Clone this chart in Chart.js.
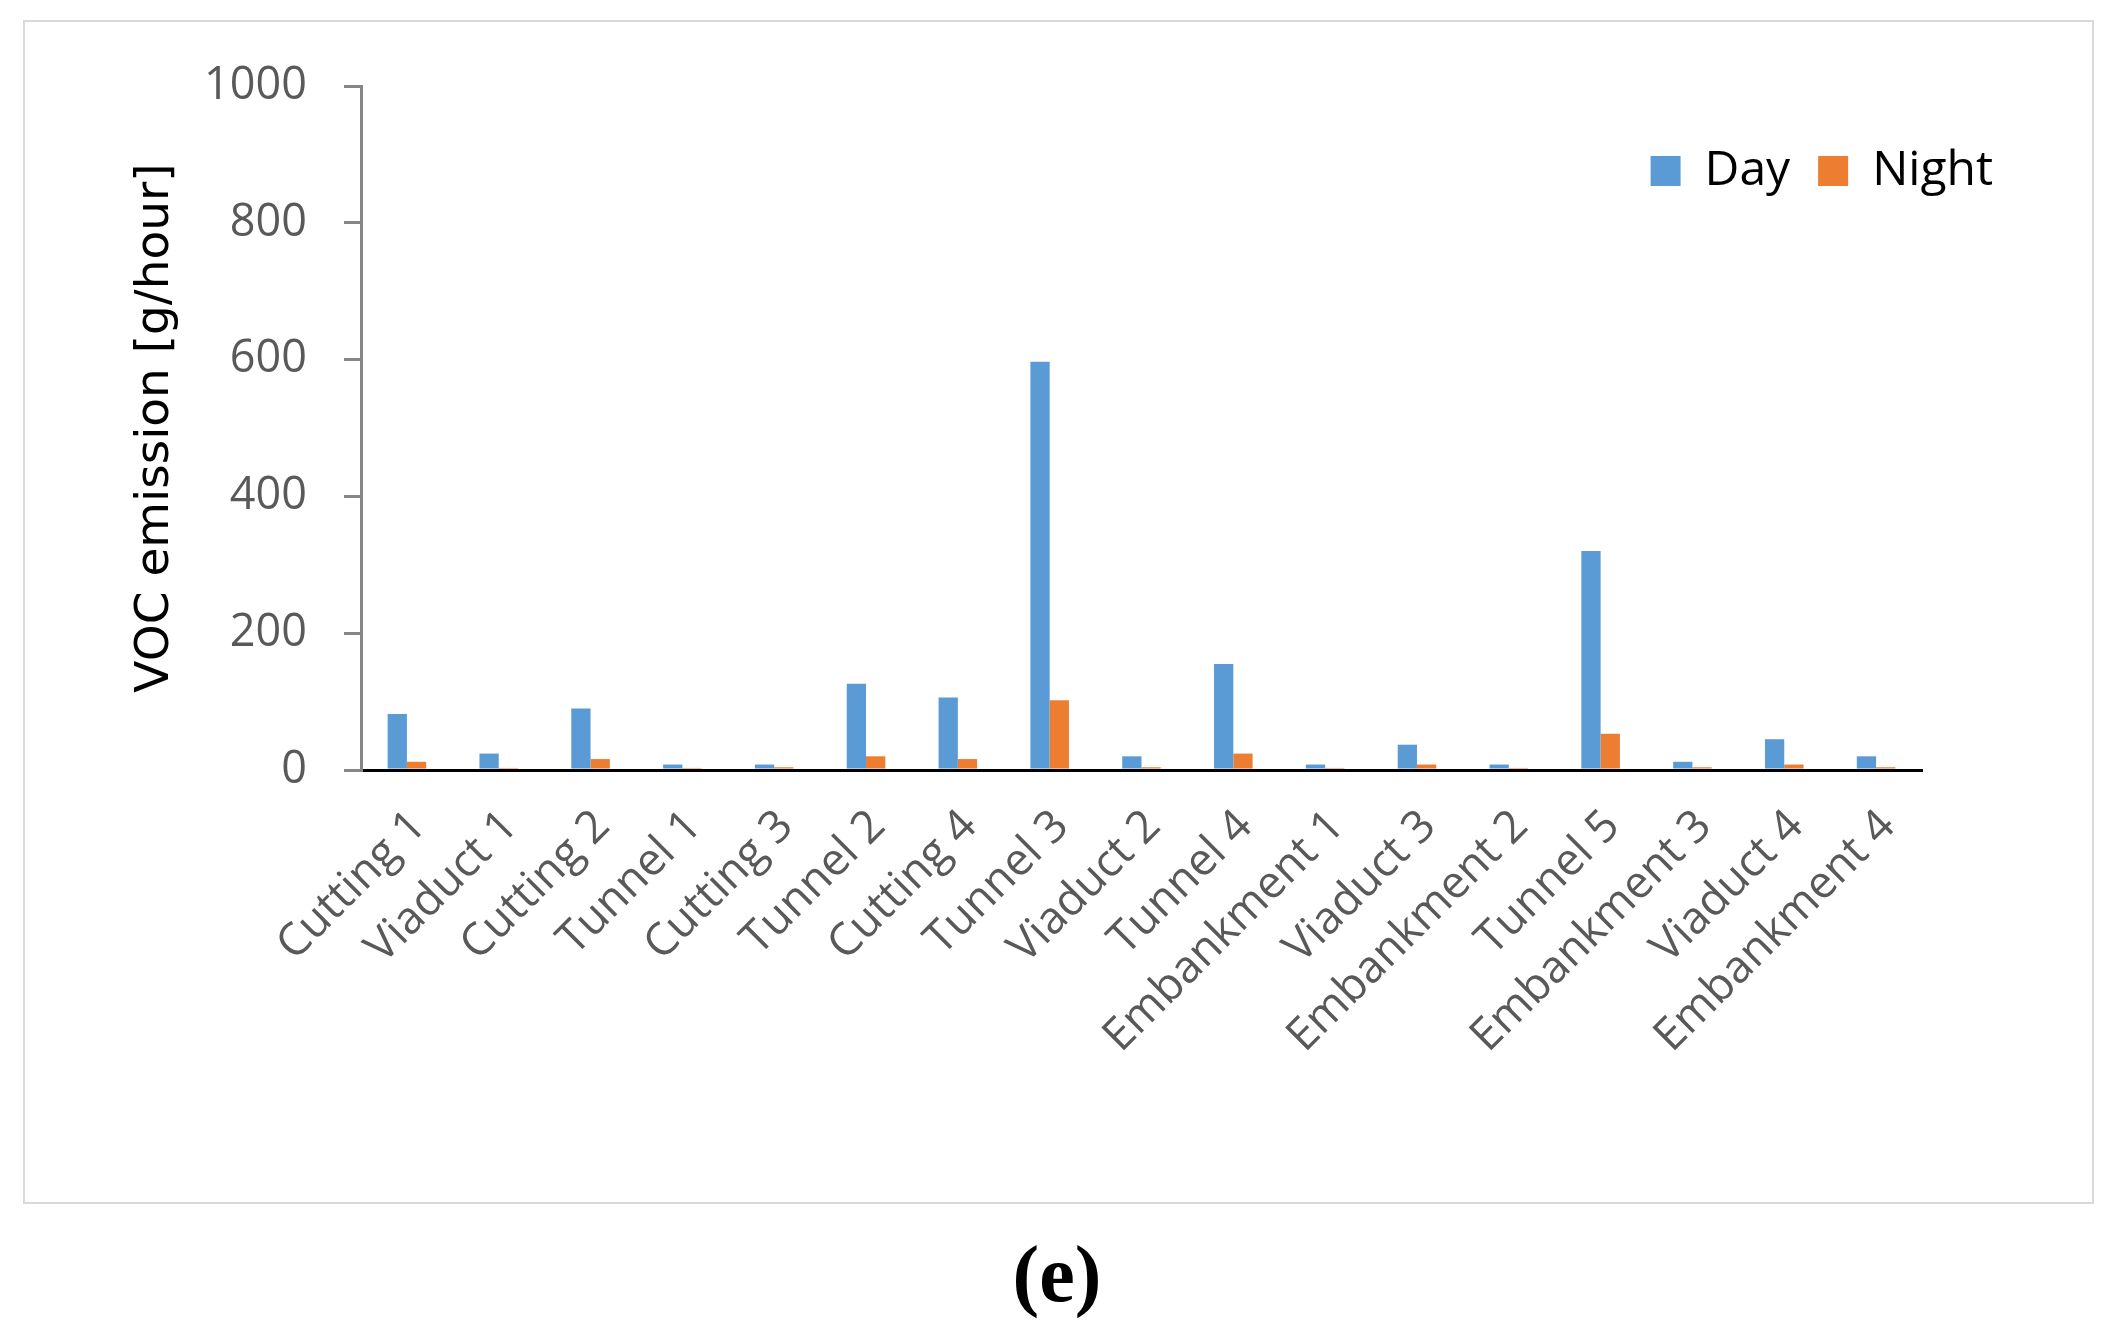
<!DOCTYPE html>
<html>
<head>
<meta charset="utf-8">
<script src="https://cdn.jsdelivr.net/npm/chart.js@4/dist/chart.umd.min.js"></script>
<style>
  html, body { margin: 0; padding: 0; background: #fff; }
  body { width: 2114px; height: 1326px; position: relative; overflow: hidden; }
  #frame {
    position: absolute; left: 23px; top: 20px;
    width: 2067px; height: 1180px;
    border: 2px solid #d9d9d9;
  }
  #wrap { position: absolute; left: 0; top: 0; width: 2067px; height: 1180px; }
  #caption {
    position: absolute; left: 0; width: 2114px; top: 1226px;
    text-align: center;
    font-family: "Liberation Serif", serif; font-weight: bold; font-size: 80px;
    line-height: 96px; color: #000;
  }
</style>
</head>
<body>
<div id="frame"><div id="wrap"><canvas id="chart"></canvas></div></div>
<div id="caption">(e)</div>
<script>
/* data */
const sites = ['Cutting 1', 'Viaduct 1', 'Cutting 2', 'Tunnel 1', 'Cutting 3', 'Tunnel 2', 'Cutting 4',
  'Tunnel 3', 'Viaduct 2', 'Tunnel 4', 'Embankment 1', 'Viaduct 3', 'Embankment 2', 'Tunnel 5',
  'Embankment 3', 'Viaduct 4', 'Embankment 4'];
const dayValues = [82, 24, 90, 8, 8, 126, 106, 597, 20, 155, 8, 37, 8, 320, 12, 45, 20];
const nightValues = [12, 3, 16, 3, 4, 20, 16, 102, 4, 24, 3, 8, 3, 53, 4, 8, 4];
const yTicks = [0, 200, 400, 600, 800, 1000];

// legend sits inside the plot, right of the axis end (as in the original)
const legendShift = {
  id: 'legendShift',
  afterLayout(chart) {
    const l = chart.legend;
    const pad = l.options.labels.padding;
    const dx = (1968 + pad) - l.right;
    const dy = (149 - 24 - pad) - l.top;
    l.left += dx; l.right += dx;
    l.top += dy; l.bottom += dy;
  }
};

const ctx = document.getElementById('chart');
new Chart(ctx, {
  type: 'bar',
  data: {
    labels: sites,
    datasets: [
      {
        label: 'Day',
        data: dayValues,
        backgroundColor: '#5b9bd5',
        categoryPercentage: 0.42,
        barPercentage: 1.0
      },
      {
        label: 'Night',
        data: nightValues,
        backgroundColor: '#ed7d31',
        categoryPercentage: 0.42,
        barPercentage: 1.0
      }
    ]
  },
  options: {
    responsive: true,
    maintainAspectRatio: false,
    animation: false,
    layout: {
      // legend box is 86px tall, so pull it up to keep the plot top at 62
      padding: { top: -24, right: 170, left: 0, bottom: 0 }
    },
    scales: {
      x: {
        grid: { display: false },
        border: { display: true, color: '#000', width: 3 },
        ticks: {
          minRotation: 45,
          maxRotation: 45,
          autoSkip: false,
          padding: 22,
          labelOffset: 12,
          color: '#595959',
          font: { family: 'Open Sans', size: 45 }
        },
        afterFit(scale) { scale.height = 432; }
      },
      y: {
        min: 0,
        max: 1000,
        afterBuildTicks(scale) { scale.ticks = yTicks.map(v => ({ value: v })); },
        grid: {
          drawOnChartArea: false,
          drawTicks: true,
          tickLength: 17,
          color: '#868686',
          lineWidth: 3
        },
        border: { display: true, color: '#868686', width: 3 },
        ticks: {
          padding: 37,
          color: '#595959',
          font: { family: 'Open Sans', size: 45 },
          callback: (v) => String(v)
        },
        title: {
          display: true,
          text: 'VOC emission [g/hour]',
          color: '#000',
          padding: { top: 107, bottom: 0 },
          font: { family: 'DejaVu Sans', size: 47, lineHeight: 1 }
        },
        afterFit(scale) { scale.width = 336; }
      }
    },
    plugins: {
      legend: {
        position: 'top',
        align: 'end',
        labels: {
          boxWidth: 30,
          boxHeight: 30,
          padding: 28,
          color: '#000',
          font: { family: 'Open Sans', size: 48 }
        }
      },
      tooltip: { enabled: false }
    }
  },
  plugins: [legendShift]
});
</script>
</body>
</html>
